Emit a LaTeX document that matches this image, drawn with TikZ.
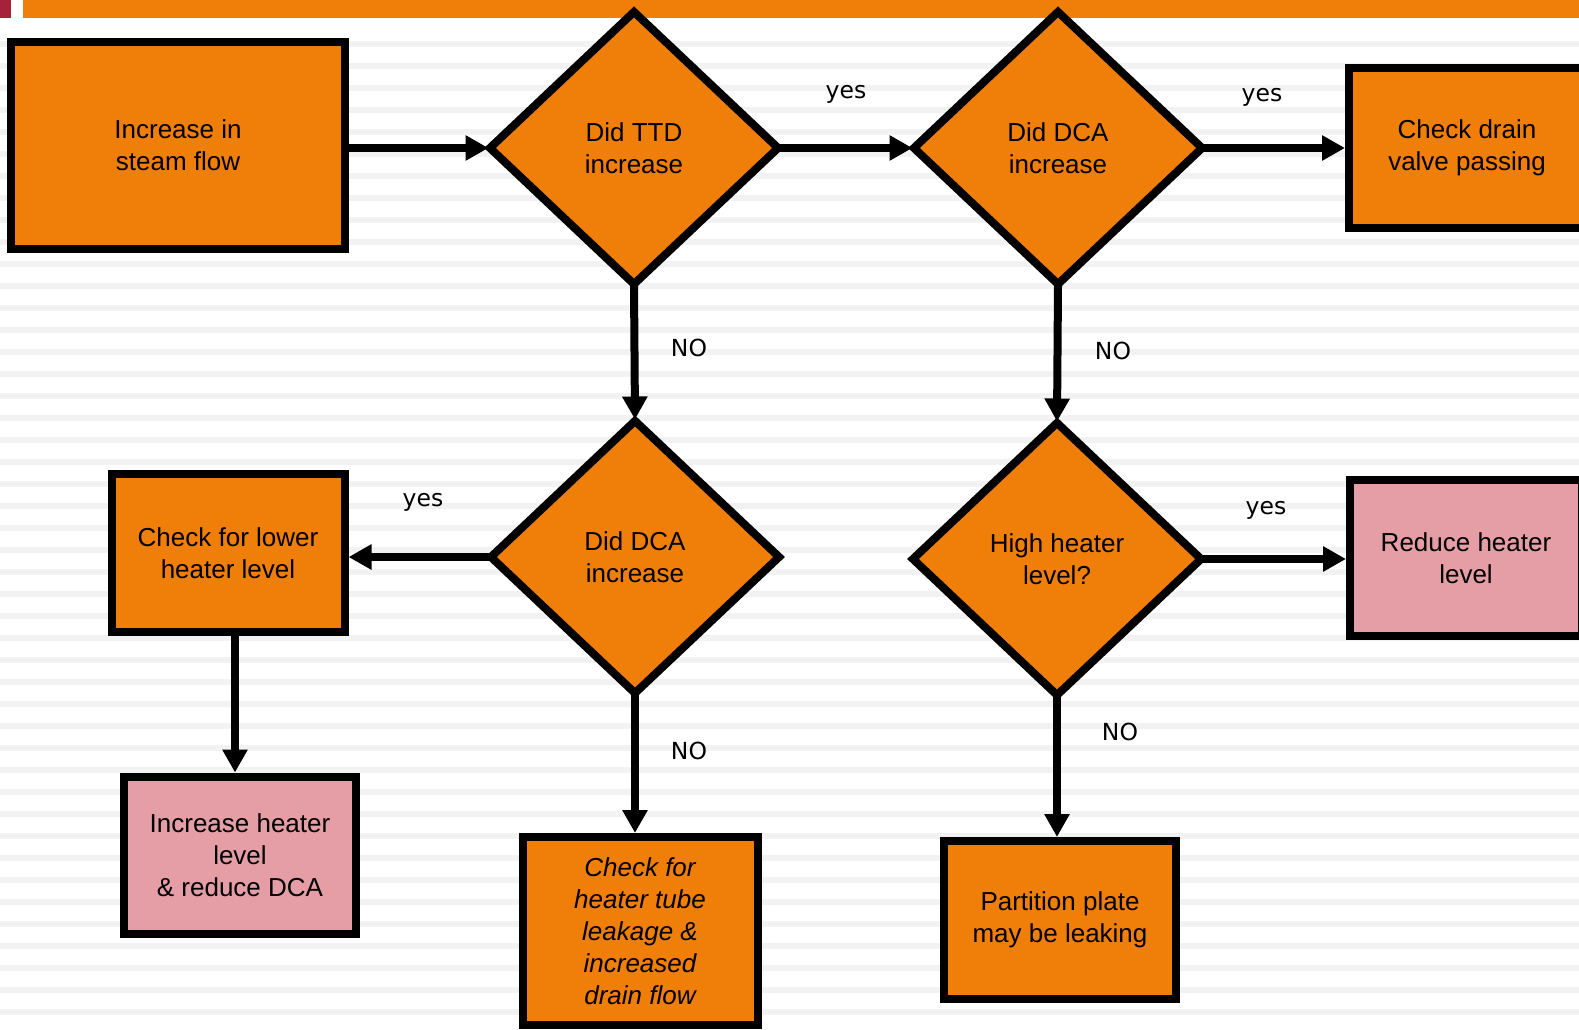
\documentclass[tikz,border=0pt]{standalone}
\usepackage{fontspec}
\setmainfont{Liberation Sans}
\newfontfamily\lblfont{DejaVu Sans}
\usetikzlibrary{arrows.meta,shapes.geometric,positioning}

\definecolor{boxorange}{RGB}{240,127,9}
\definecolor{boxpink}{RGB}{229,158,166}
\definecolor{barred}{RGB}{165,34,56}
\definecolor{stripegray}{RGB}{242,242,242}

\tikzset{
	stepbox/.style={draw, rectangle, line width=8pt, fill=boxorange, inner sep=0pt, align=center, font=\fontsize{26}{32}\selectfont},
	actbox/.style={stepbox, fill=boxpink},
	leakbox/.style={stepbox, font=\fontsize{26}{32}\selectfont\itshape},
	decision/.style={draw, diamond, line width=8pt, fill=boxorange, inner sep=0pt, outer sep=1pt, minimum width=289pt, minimum height=273pt, align=center, font=\fontsize{26}{32}\selectfont},
	flow/.style={-{Triangle[length=23pt,width=24pt]}, line width=8pt},
	answer/.style={inner sep=0pt, font=\lblfont\fontsize{23.5}{28}\selectfont}
}

\begin{document}
\begin{tikzpicture}[x=1pt,y=-1pt]
	% Define page size
	\def \pagew {1579}
	\def \pageh {1029}
	\useasboundingbox (0,0) rectangle (\pagew,\pageh);
	\clip (0,0) rectangle (\pagew,\pageh);
	% Draw background
	\fill[white] (0,0) rectangle (\pagew,\pageh);
	\foreach \y in {41,63,...,1029}
		\fill[stripegray] (0,\y) rectangle (\pagew,\y+6);
	\fill[barred] (0,0) rectangle (11,18);
	\fill[boxorange] (23,0) rectangle (\pagew,18);
	% Draw nodes
	\node[stepbox, minimum width=334pt, minimum height=207pt] (steam) at (178,145) {Increase in\\steam flow};
	\node[decision] (ttd) at (634,148) {Did TTD\\increase};
	\node[decision] (dcaup) at (1058,148) {Did DCA\\increase};
	\node[stepbox, minimum width=236pt, minimum height=160pt] (valve) at (1467,148) {Check drain\\valve passing};
	\node[decision] (dcalow) at (635,557) {Did DCA\\increase};
	\node[decision] (level) at (1057,559) {High heater\\level?};
	\node[stepbox, minimum width=233pt, minimum height=158pt] (lower) at (228,553) {Check for lower\\heater level};
	\node[actbox, minimum width=232pt, minimum height=156pt] (reduce) at (1466,558) {Reduce heater\\level};
	\node[actbox, minimum width=232pt, minimum height=157pt] (raise) at (240,855) {Increase heater\\level\\\& reduce DCA};
	\node[leakbox, minimum width=235pt, minimum height=188pt] (tube) at (640,931) {Check for\\heater tube\\leakage \&\\increased\\drain flow};
	\node[stepbox, minimum width=232pt, minimum height=158pt] (plate) at (1060,920) {Partition plate\\may be leaking};
	% Draw arrows
	\draw[flow] (steam.east |- ttd.west) -- (ttd.west);
	\draw[flow] (ttd.east) -- (dcaup.west);
	\draw[flow] (dcaup.east) -- (valve.west |- dcaup.east);
	\draw[flow] (ttd.south) -- (dcalow.north);
	\draw[flow] (dcaup.south) -- (level.north);
	\draw[flow] (dcalow.west) -- (lower.east |- dcalow.west);
	\draw[flow] ([xshift=7pt]lower.south) -- ([xshift=-5pt]raise.north);
	\draw[flow] (dcalow.south) -- (dcalow.south |- tube.north);
	\draw[flow] (level.east) -- (reduce.west |- level.east);
	\draw[flow] (level.south) -- (level.south |- plate.north);
	% Draw answers
	\node[answer] (yesttd) at (846,94) {yes};
	\node[answer] (yesdca) at (1262,97) {yes};
	\node[answer] (nottd) at (689,348) {NO};
	\node[answer] (nodca) at (1113,351) {NO};
	\node[answer] (yeslow) at (423,502) {yes};
	\node[answer] (yeslevel) at (1266,510) {yes};
	\node[answer] (nolow) at (689,751) {NO};
	\node[answer] (nolevel) at (1120,732) {NO};
\end{tikzpicture}
\end{document}
